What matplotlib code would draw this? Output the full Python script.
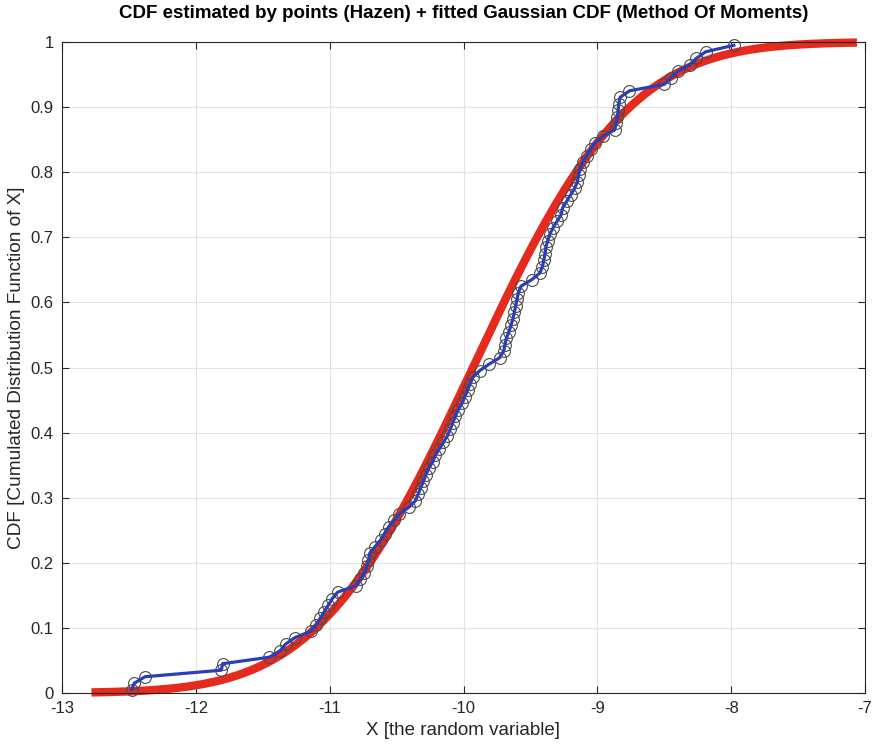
import numpy as np
import matplotlib
matplotlib.use("Agg")
import matplotlib.pyplot as plt
from matplotlib import font_manager
import math

# ---- data ----
x_sorted = [-12.48, -12.46, -12.38, -11.81, -11.80, -11.45, -11.37, -11.33, -11.26, -11.14,
            -11.10, -11.07, -11.04, -11.01, -10.98, -10.94, -10.80, -10.77, -10.74, -10.72,
            -10.71, -10.70, -10.66, -10.62, -10.59, -10.56, -10.52, -10.48, -10.41, -10.36,
            -10.34, -10.32, -10.30, -10.28, -10.26, -10.23, -10.21, -10.18, -10.15, -10.12,
            -10.10, -10.08, -10.06, -10.04, -10.01, -9.99, -9.97, -9.95, -9.93, -9.88,
            -9.81, -9.73, -9.70, -9.69, -9.68, -9.66, -9.645, -9.63, -9.62, -9.61,
            -9.60, -9.59, -9.57, -9.49, -9.43, -9.41, -9.40, -9.39, -9.385, -9.37,
            -9.355, -9.33, -9.30, -9.27, -9.26, -9.23, -9.20, -9.17, -9.15, -9.14,
            -9.13, -9.11, -9.08, -9.05, -9.02, -8.96, -8.87, -8.86, -8.85, -8.845,
            -8.84, -8.83, -8.76, -8.50, -8.45, -8.40, -8.31, -8.26, -8.19, -7.98]
n_points = len(x_sorted)
hazen_cdf = [(i - 0.5) / n_points for i in range(1, n_points + 1)]

gauss_mu = -9.93
gauss_sigma = 0.915
gauss_xmin = -12.78
gauss_xmax = -7.06

x_ticks = [-13, -12, -11, -10, -9, -8, -7]
y_ticks = [0, 0.1, 0.2, 0.3, 0.4, 0.5, 0.6, 0.7, 0.8, 0.9, 1]
y_ticklabels = ["0", "0.1", "0.2", "0.3", "0.4", "0.5", "0.6", "0.7", "0.8", "0.9", "1"]

title_text = "CDF estimated by points (Hazen) + fitted Gaussian CDF (Method Of Moments)"
xlabel_text = "X [the random variable]"
ylabel_text = "CDF [Cumulated Distribution Function of X]"

# ---- font ----
names = {f.name for f in font_manager.fontManager.ttflist}
fam = "Liberation Sans Narrow" if "Liberation Sans Narrow" in names else "Liberation Sans"
plt.rcParams["font.family"] = [fam, "DejaVu Sans"]

gx = np.linspace(gauss_xmin, gauss_xmax, 400)
gy = np.array([0.5 * (1 + math.erf((v - gauss_mu) / (gauss_sigma * math.sqrt(2)))) for v in gx])

fig = plt.figure(figsize=(8.76, 7.49), dpi=100)
ax = fig.add_axes([62 / 876, 1 - 693 / 749, (865 - 62) / 876, (693 - 42) / 749])

ax.plot(gx, gy, color="#e62a1e", lw=6.0, solid_capstyle="butt", zorder=2, clip_on=False)
ax.plot(x_sorted, hazen_cdf, ls="none", marker="o", ms=8.5, mfc="none",
        mec="#4a4a4a", mew=0.8, zorder=3, clip_on=False)
ax.plot(x_sorted, hazen_cdf, color="#2a3fb5", lw=2.3, zorder=4, clip_on=False)

ax.set_xlim(-13, -7)
ax.set_ylim(0, 1)
ax.set_xticks(x_ticks)
ax.set_xticklabels([str(t) for t in x_ticks])
ax.set_yticks(y_ticks)
ax.set_yticklabels(y_ticklabels)
ax.grid(True, color="#e3e3e3", lw=0.8)
ax.set_axisbelow(True)
ax.tick_params(direction="in", top=True, right=True, length=5, width=0.8,
               colors="#262626", labelsize=12, pad=6)
for s in ax.spines.values():
    s.set_color("#262626")
    s.set_linewidth(0.8)

ax.set_title(title_text, fontsize=13.5, fontweight="bold", color="black", pad=17)
ax.set_xlabel(xlabel_text, fontsize=13.5, color="#262626", labelpad=4)
ax.set_ylabel(ylabel_text, fontsize=13.7, color="#262626", labelpad=4)

fig.savefig("out.png", dpi=100, facecolor="white")
